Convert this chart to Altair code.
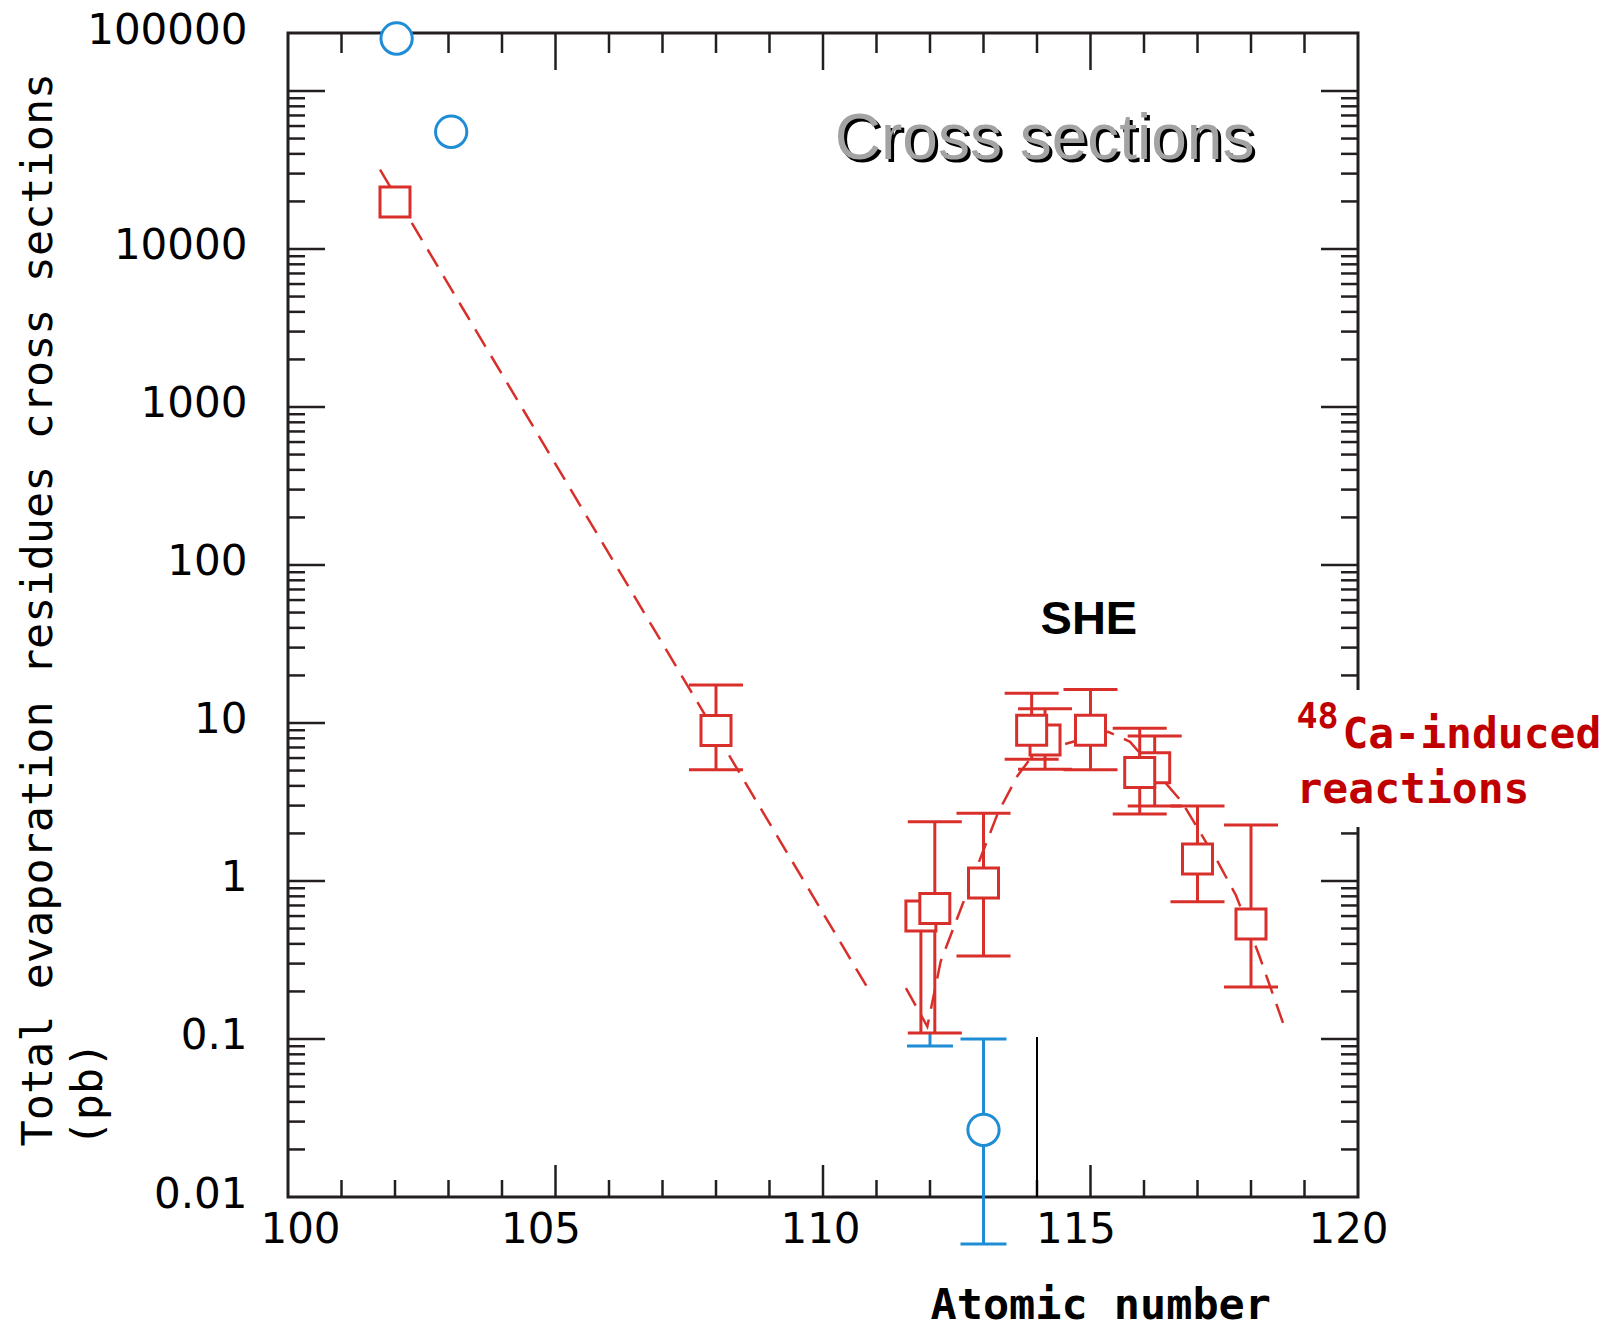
import altair as alt
import pandas as pd

# Colours
RED = "#d82f2a"
BLUE = "#1f8dd6"
INK = "#231f20"
LABEL_RED = "#c00000"

# Plot area (pixels) and axis extents
W, H = 1070, 1164
X_DOMAIN = [100, 120]
Y_BOTTOM = 0.01
Y_TOP = 10 ** 5.367          # top of the frame, labelled "100000"

# ---------------------------------------------------------------------------
# 48Ca-induced reactions (red squares); drawing order keeps overlaps right
red_z = [102, 108, 111.83, 112.09, 113, 114.15, 113.9, 115, 116.2, 115.92, 117, 118]
red_sigma = [19800, 8.97, 0.60, 0.67, 0.97, 7.8, 9.0, 9.0, 5.2, 4.86, 1.38, 0.535]
red_low = [None, 5.05, 0.109, 0.109, 0.335, 5.1, 5.9, 5.05, 2.98, 2.65, 0.74, 0.213]
red_high = [None, 17.4, None, 2.37, 2.68, 12.3, 15.4, 16.3, 8.28, 9.25, 2.98, 2.26]
red_low_cap = [False, True, False, True, True, True, True, True, True, True, True, True]

# Other reactions (blue circles)
blue_z = [102.03, 103.05, 113]
blue_sigma = [214800, 55200, 0.0266]
blue_err_z = [113, 112]
blue_err_low = [0.00505, 0.0903]
blue_err_high = [0.1, 0.109]
blue_err_high_cap = [True, False]

# Systematics trend (dashed), two branches
trend_a_z = [101.72, 107.44, 110.88]
trend_a_sigma = [31800, 17.9, 0.198]
trend_b_z = [111.55, 111.95, 112.2, 112.6, 113.27, 113.63, 113.96, 115.33, 115.74,
             116.71, 117.38, 117.72, 118.15, 118.6]
trend_b_sigma = [0.21, 0.12, 0.31, 0.70, 2.7, 4.6, 6.5, 8.8, 7.6,
                 3.16, 1.32, 0.81, 0.34, 0.126]

# Vertical marker at Z = 114
marker_z = [114]
marker_low = [0.01]
marker_high = [0.103]

# Axis tick positions
y_major = [10.0 ** k for k in range(-1, 6)]
y_minor = [d * 10.0 ** k for k in range(-2, 5) for d in range(2, 10)]
x_major = [105, 110, 115]
x_minor = [z for z in range(101, 120) if z % 5 != 0]

# ---------------------------------------------------------------------------
xs = alt.Scale(domain=X_DOMAIN, nice=False, zero=False)
ys = alt.Scale(type="log", domain=[Y_BOTTOM, Y_TOP], nice=False)

y_axis = alt.Axis(
    values=[0.01, 0.1, 1, 10, 100, 1000, 10000, Y_TOP],
    labelExpr=("datum.value > 150000 ? '100000' : datum.value < 1 ? "
               "format(datum.value, '.2~f') : format(datum.value, 'd')"),
    ticks=False, tickSize=0, domain=False, grid=False,
    labelFont="DejaVu Sans", labelFontSize=42, labelColor="black",
    labelPadding=41, labelBaseline="middle", labelOffset=-3, labelOverlap=False,
    title=["Total evaporation residues cross sections", "(pb)"],
    titleFont="DejaVu Sans Mono", titleFontSize=43.5, titleFontWeight="normal",
    titleColor="black", titleAngle=270, titleAlign="left", titleBaseline="alphabetic",
    titleX=-237, titleY=1113, titleLineHeight=50,
)

# x labels sit slightly off their ticks
x_label_shift = {
    "condition": [
        {"test": "datum.value == 100", "value": 12},
        {"test": "datum.value == 110", "value": -3},
        {"test": "datum.value == 120", "value": -10},
    ],
    "value": -15,
}

x_axis = alt.Axis(
    values=[100, 105, 110, 115, 120], format="d",
    ticks=False, tickSize=0, domain=False, grid=False,
    labelFont="DejaVu Sans", labelFontSize=42, labelColor="black",
    labelPadding=12, labelBaseline="top", labelFlush=False, labelOffset=x_label_shift,
    labelOverlap=False,
    title="Atomic number", titleFont="DejaVu Sans Mono", titleFontSize=43.5,
    titleFontWeight="bold", titleColor="black", titleAlign="left",
    titleBaseline="alphabetic", titleX=642, titleY=121,
)


def X(field):
    return alt.X(field, type="quantitative", scale=xs, axis=x_axis)


def Y(field):
    return alt.Y(field, type="quantitative", scale=ys, axis=y_axis)


# --- frame ticks (pointing inwards on all four sides) ---
ydf_major = pd.DataFrame({"v": y_major})
ydf_minor = pd.DataFrame({"v": y_minor})
xdf_major = pd.DataFrame({"v": x_major})
xdf_minor = pd.DataFrame({"v": x_minor})


def yticks(df, x0, x1):
    return alt.Chart(df).mark_rule(color=INK, strokeWidth=2.5).encode(
        y=Y("v"), x=alt.value(x0), x2=alt.value(x1))


def xticks(df, y0, y1):
    return alt.Chart(df).mark_rule(color=INK, strokeWidth=2.5).encode(
        x=X("v"), y=alt.value(y0), y2=alt.value(y1))


tick_layers = [
    yticks(ydf_major, 0, 37),
    yticks(ydf_minor, 0, 17),
    yticks(ydf_major, W - 37, W),
    yticks(ydf_minor, W - 17, W),
    xticks(xdf_major, H - 32, H),
    xticks(xdf_minor, H - 17, H),
    xticks(xdf_major, 0, 37),
    xticks(xdf_minor, 0, 20),
]

# --- marker line ---
marker = alt.Chart(pd.DataFrame({"z": marker_z, "lo": marker_low, "hi": marker_high})) \
    .mark_rule(color="black", strokeWidth=2).encode(
        x=X("z"), y=Y("lo"), y2=alt.Y2("hi"))

# --- dashed trend ---
trend_df = pd.DataFrame({
    "z": trend_a_z + trend_b_z,
    "s": trend_a_sigma + trend_b_sigma,
    "branch": ["a"] * len(trend_a_z) + ["b"] * len(trend_b_z),
    "k": list(range(len(trend_a_z))) + list(range(len(trend_b_z))),
})
trend = alt.Chart(trend_df).mark_line(
    color=RED, strokeWidth=2.5, strokeDash=[20, 11]).encode(
        x=X("z"), y=Y("s"), detail="branch:N", order="k:Q")

# --- blue error bars ---
blue_err_df = pd.DataFrame({"z": blue_err_z, "lo": blue_err_low, "hi": blue_err_high})
blue_caps = [{"z": z, "c": lo} for z, lo in zip(blue_err_z, blue_err_low)] + \
    [{"z": z, "c": hi} for z, hi, cap in zip(blue_err_z, blue_err_high, blue_err_high_cap) if cap]
blue_err = alt.Chart(blue_err_df).mark_rule(color=BLUE, strokeWidth=3).encode(
    x=X("z"), y=Y("lo"), y2=alt.Y2("hi"))
blue_cap = alt.Chart(pd.DataFrame(blue_caps)).mark_tick(
    color=BLUE, orient="horizontal", size=46, thickness=3, opacity=1).encode(
        x=X("z"), y=Y("c"))

# --- red error bars ---
red_err_rows, red_cap_rows = [], []
for z, s, lo, hi, lc in zip(red_z, red_sigma, red_low, red_high, red_low_cap):
    if lo is None and hi is None:
        continue
    red_err_rows.append({"z": z, "lo": lo if lo is not None else s,
                         "hi": hi if hi is not None else s})
    if hi is not None:
        red_cap_rows.append({"z": z, "c": hi})
    if lo is not None and lc:
        red_cap_rows.append({"z": z, "c": lo})
red_err = alt.Chart(pd.DataFrame(red_err_rows)).mark_rule(color=RED, strokeWidth=3).encode(
    x=X("z"), y=Y("lo"), y2=alt.Y2("hi"))
red_cap = alt.Chart(pd.DataFrame(red_cap_rows)).mark_tick(
    color=RED, orient="horizontal", size=54, thickness=3, opacity=1).encode(
        x=X("z"), y=Y("c"))

# --- symbols ---
blue_pts = alt.Chart(pd.DataFrame({"z": blue_z, "s": blue_sigma})).mark_point(
    shape="circle", size=980, filled=True, fill="white", stroke=BLUE,
    strokeWidth=3, opacity=1).encode(x=X("z"), y=Y("s"))
red_pts = alt.Chart(pd.DataFrame({"z": red_z, "s": red_sigma})).mark_point(
    shape="square", size=900, filled=True, fill="white", stroke=RED,
    strokeWidth=3, opacity=1).encode(x=X("z"), y=Y("s"))

# --- annotations ---
label_box = alt.Chart(pd.DataFrame({"x": [118.73], "x2": [124.8], "y": [16.2], "y2": [2.2]})) \
    .mark_rect(fill="white", opacity=1).encode(
        x=X("x"), x2=alt.X2("x2"), y=Y("y"), y2=alt.Y2("y2"))


def note(text, z, s, size, color, font, weight="normal", align="left", dx=0, dy=0):
    return alt.Chart(pd.DataFrame({"z": [z], "s": [s]})).mark_text(
        text=text, font=font, fontSize=size, fontWeight=weight, color=color,
        align=align, baseline="alphabetic", dx=dx, dy=dy).encode(x=X("z"), y=Y("s"))


notes = [
    note("Cross sections", 110.22, 37150, 64, "black", "Liberation Sans", dx=3, dy=3),
    note("Cross sections", 110.22, 37150, 64, "#a3a3a3", "Liberation Sans"),
    note("SHE", 114.97, 36.5, 47, "black", "Liberation Sans", weight="bold", align="center"),
    note("48", 118.85, 9.29, 35, LABEL_RED, "DejaVu Sans Mono", weight="bold"),
    note("Ca-induced", 119.71, 6.95, 43, LABEL_RED, "DejaVu Sans Mono", weight="bold"),
    note("reactions", 118.85, 3.13, 43, LABEL_RED, "DejaVu Sans Mono", weight="bold"),
]

chart = alt.layer(
    *tick_layers, marker, trend, blue_err, blue_cap, red_err, red_cap,
    blue_pts, red_pts, label_box, *notes,
).properties(
    width=W, height=H,
    autosize=alt.AutoSizeParams(type="none"),
    padding={"left": 288, "top": 33, "right": 254, "bottom": 133},
    background="white",
).configure_view(stroke=INK, strokeWidth=3)

chart.save("out.html", embed_options={"renderer": "svg", "actions": False})
